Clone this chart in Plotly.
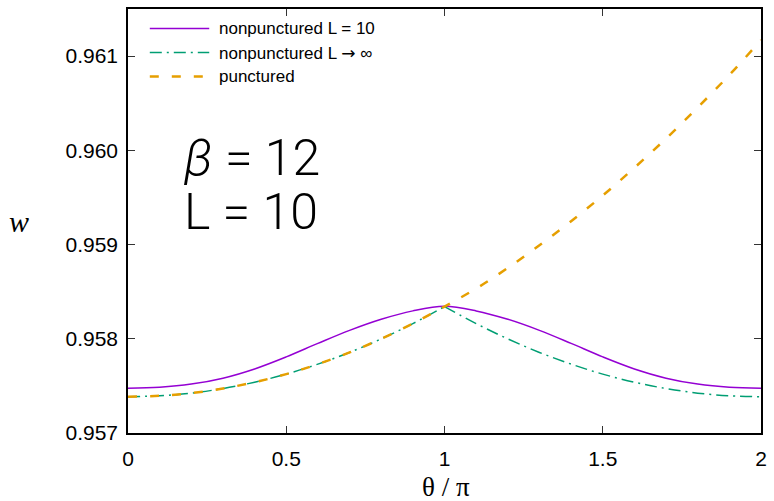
import plotly.graph_objects as go

# ---------------- data ----------------
theta = [0.0, 0.1, 0.2, 0.3, 0.4, 0.5, 0.6, 0.7, 0.8, 0.9, 1.0,
         1.1, 1.2, 1.3, 1.4, 1.5, 1.6, 1.7, 1.8, 1.9, 2.0]

w_nonpunct_L10 = [0.957476, 0.957486, 0.957519, 0.957582, 0.957680, 0.957808,
                  0.957951, 0.958089, 0.958207, 0.958296, 0.958344,
                  0.958296, 0.958207, 0.958089, 0.957951, 0.957808,
                  0.957680, 0.957582, 0.957519, 0.957486, 0.957476]

w_nonpunct_inf = [0.957385, 0.957395, 0.957423, 0.957472, 0.957539, 0.957625,
                  0.957731, 0.957855, 0.957999, 0.958161, 0.958342,
                  0.958161, 0.957999, 0.957855, 0.957731, 0.957625,
                  0.957539, 0.957472, 0.957423, 0.957395, 0.957385]

w_punct = [0.957385, 0.957395, 0.957423, 0.957472, 0.957539, 0.957625,
           0.957731, 0.957855, 0.957999, 0.958161, 0.958342,
           0.958533, 0.958752, 0.958993, 0.959248, 0.959520,
           0.959815, 0.960125, 0.960455, 0.960800, 0.961170]

legend_names = ["nonpunctured L = 10",
                "nonpunctured L <span style=\"font-family:'DejaVu Sans'\">\u2192</span> \u221e",
                "punctured"]
x_tickvals = [0, 0.5, 1, 1.5, 2]
x_ticktext = ["0", "0.5", "1", "1.5", "2"]
y_tickvals = [0.957, 0.958, 0.959, 0.960, 0.961]
y_ticktext = ["0.957", "0.958", "0.959", "0.960", "0.961"]

# ---------------- styles ----------------
PURPLE = "#9400D3"
GREEN = "#009E73"
ORANGE = "#E69F00"
GREEN_DASH = "12px,5px,2px,5px"
ORANGE_DASH = "9px,13px"

W, H = 774, 501
L, R, T, B = 128, 7, 9, 68
PW, PH = W - L - R, H - T - B


def px(x):
    return (x - L) / PW


def py(y):
    return (H - B - y) / PH


fig = go.Figure()

fig.add_trace(go.Scatter(x=theta, y=w_nonpunct_L10, mode="lines",
                         line=dict(color=PURPLE, width=1.5, shape="spline"),
                         name="nonpunctured L = 10"))
# L -> infinity: two branches meeting in a cusp at theta = 1
fig.add_trace(go.Scatter(x=theta[:11], y=w_nonpunct_inf[:11], mode="lines",
                         line=dict(color=GREEN, width=1.5, dash=GREEN_DASH, shape="spline"),
                         name="nonpunctured L \u2192 \u221e"))
fig.add_trace(go.Scatter(x=theta[10:], y=w_nonpunct_inf[10:], mode="lines",
                         line=dict(color=GREEN, width=1.5, dash=GREEN_DASH, shape="spline"),
                         name="nonpunctured L \u2192 \u221e"))
fig.add_trace(go.Scatter(x=theta, y=w_punct, mode="lines",
                         line=dict(color=ORANGE, width=2.5, dash=ORANGE_DASH, shape="spline"),
                         name="punctured"))

# ---------------- manual gnuplot-like key ----------------
key_rows = [(28.5, PURPLE, 1.5, "solid"), (52.5, GREEN, 1.5, GREEN_DASH), (76.5, ORANGE, 2.5, ORANGE_DASH)]
shapes = []
annotations = []
for (yy, col, lw, dsh), name in zip(key_rows, legend_names):
    shapes.append(dict(type="line", xref="paper", yref="paper",
                       x0=px(150), x1=px(210), y0=py(yy), y1=py(yy),
                       line=dict(color=col, width=lw, dash=dsh)))
    annotations.append(dict(text=name, xref="paper", yref="paper",
                            x=px(218), y=py(yy), xanchor="left", yanchor="middle",
                            showarrow=False,
                            font=dict(family="Liberation Sans, Arial", size=17, color="black")))

big_font = dict(family="Roboto, Liberation Sans, Arial", size=50, color="black", weight=300)
annotations.append(dict(text="<i>\u03b2</i> = 12", xref="paper", yref="paper",
                        x=px(183), y=py(158), xanchor="left", yanchor="middle", showarrow=False,
                        font=big_font))
annotations.append(dict(text="L = 10", xref="paper", yref="paper",
                        x=px(183), y=py(212), xanchor="left", yanchor="middle", showarrow=False,
                        font=big_font))
annotations.append(dict(text="<i>w</i>", xref="paper", yref="paper",
                        x=px(18), y=py(221), xanchor="center", yanchor="middle", showarrow=False,
                        font=dict(family="Liberation Serif, Times New Roman, serif", size=30, color="black")))
annotations.append(dict(text="\u03b8 / \u03c0", xref="paper", yref="paper",
                        x=px(449), y=py(487), xanchor="center", yanchor="middle", showarrow=False,
                        font=dict(family="Liberation Serif, Times New Roman, serif", size=27, color="black")))

axis_common = dict(showline=True, mirror="ticks", linecolor="black", linewidth=1.5,
                   ticks="inside", ticklen=7, tickwidth=1, tickcolor="#333333",
                   showgrid=False, zeroline=False,
                   tickfont=dict(family="Liberation Sans, Arial", size=21, color="black"))

fig.update_layout(
    width=W, height=H,
    margin=dict(l=L, r=R, t=T, b=B),
    paper_bgcolor="white", plot_bgcolor="white",
    showlegend=False,
    shapes=shapes, annotations=annotations,
    xaxis=dict(range=[0, 2], tickvals=x_tickvals, ticktext=x_ticktext,
               ticklabelstandoff=6, **axis_common),
    yaxis=dict(range=[0.957, 0.9615], tickvals=y_tickvals, ticktext=y_ticktext,
               ticklabelstandoff=4, **axis_common),
)

fig.write_html("out.html")
